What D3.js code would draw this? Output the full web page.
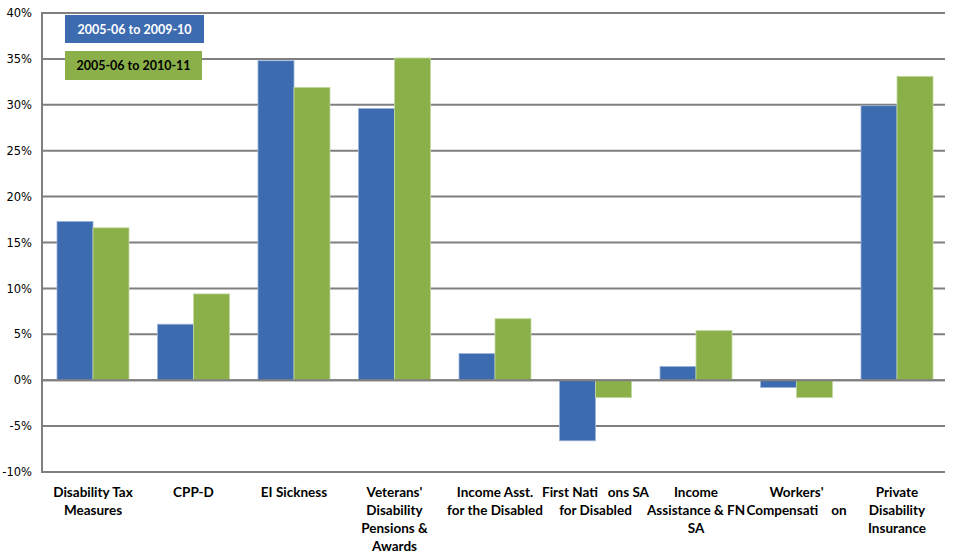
<!DOCTYPE html>
<html><head><meta charset="utf-8">
<script src="https://cdn.jsdelivr.net/npm/d3@7"></script>
<style>body{margin:0;background:#fff}svg{display:block}</style>
</head><body>
<svg id="c" width="955" height="557"></svg>
<script>
const categories = [
  ["Disability Tax", "Measures"],
  ["CPP-D"],
  ["EI Sickness"],
  ["Veterans'", "Disability", "Pensions &", "Awards"],
  ["Income Asst.", "for the Disabled"],
  ["First Nati   ons SA", "for Disabled"],
  ["Income", "Assistance & FN", "SA"],
  ["Workers'", "Compensati    on"],
  ["Private", "Disability", "Insurance"]
];
const seriesNames = ["2005-06 to 2009-10", "2005-06 to 2010-11"];
const series1 = [17.3, 6.1, 34.8, 29.6, 2.9, -6.6, 1.5, -0.8, 29.9];
const series2 = [16.6, 9.4, 31.9, 35.1, 6.7, -1.9, 5.4, -1.9, 33.1];
const yTicks = [-10, -5, 0, 5, 10, 15, 20, 25, 30, 35, 40];

const svg = d3.select("#c");
const m = {l: 42, r: 945, t: 13, b: 472};
const x = d3.scaleBand().domain(d3.range(categories.length)).range([42.75, 947.25]).paddingInner(0).paddingOuter(0);
const y = d3.scaleLinear().domain([-10, 40]).range([m.b, m.t]);
const barW = 36;
const colors = ["#3D6BB0", "#8BB049"];
const strokes = ["#9DB3DA", "#C3D9A0"];

// gridlines
svg.append("g").selectAll("line").data(yTicks).join("line")
  .attr("x1", m.l).attr("x2", m.r)
  .attr("y1", d => y(d)).attr("y2", d => y(d))
  .attr("stroke", "#7f7f7f").attr("stroke-width", 2);

// axis labels
const yAxis = d3.axisLeft(y).tickValues(yTicks).tickFormat(d => d + "%").tickSize(0).tickPadding(10);
const ga = svg.append("g").attr("transform", `translate(${m.l},0)`).call(yAxis);
ga.select(".domain").remove();
ga.selectAll("text").attr("font-family", "DejaVu Sans").attr("font-size", 11.5).attr("fill", "#000");

// bars
[series1, series2].forEach((s, si) => {
  svg.append("g").selectAll("rect").data(s).join("rect")
    .attr("x", (d, i) => x(i) + x.bandwidth() / 2 - barW + si * barW)
    .attr("width", barW)
    .attr("y", d => y(Math.max(0, d)))
    .attr("height", d => Math.abs(y(d) - y(0)))
    .attr("fill", colors[si])
    .attr("stroke", strokes[si]).attr("stroke-width", 0.8);
});

// zero line and left axis on top
svg.append("line").attr("x1", m.l).attr("x2", m.r).attr("y1", y(0)).attr("y2", y(0))
  .attr("stroke", "#7f7f7f").attr("stroke-width", 2);
svg.append("line").attr("x1", m.l).attr("x2", m.l).attr("y1", m.t - 1).attr("y2", m.b + 1)
  .attr("stroke", "#7f7f7f").attr("stroke-width", 2);

// category labels
const gl = svg.append("g");
categories.forEach((lines, i) => {
  const t = gl.append("text")
    .attr("x", x(i) + x.bandwidth() / 2)
    .attr("y", 497)
    .attr("text-anchor", "middle")
    .attr("font-family", "Lato").attr("font-weight", "bold").attr("font-size", 13.5)
    .attr("fill", "#000").style("white-space", "pre");
  lines.forEach((ln, j) => {
    t.append("tspan").attr("x", x(i) + x.bandwidth() / 2).attr("dy", j === 0 ? 0 : 18).text(ln);
  });
});

// legend
const legend = [
  {x: 65, y: 15, w: 139, h: 28, fill: colors[0], tc: "#fff"},
  {x: 65, y: 51, w: 137, h: 29, fill: colors[1], tc: "#000"}
];
legend.forEach((L, i) => {
  svg.append("rect").attr("x", L.x).attr("y", L.y).attr("width", L.w).attr("height", L.h).attr("fill", L.fill);
  svg.append("text").attr("x", L.x + L.w / 2).attr("y", L.y + L.h / 2 + 4.5)
    .attr("text-anchor", "middle").attr("font-family", "Lato").attr("font-weight", "bold")
    .attr("font-size", 12.5).attr("fill", L.tc).text(seriesNames[i]);
});
</script>
</body></html>
